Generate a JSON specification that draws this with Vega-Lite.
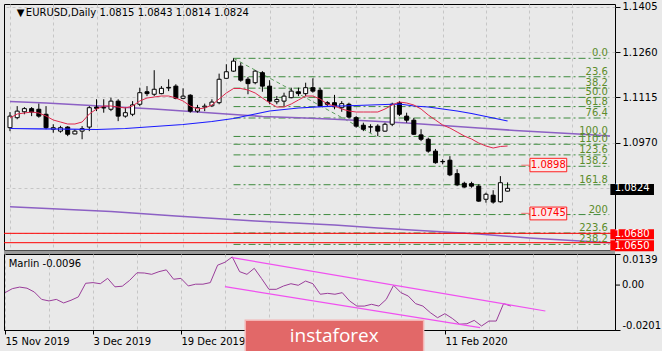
{
 "$schema": "https://vega.github.io/schema/vega-lite/v6.json",
 "background": "#e9e9e9",
 "padding": {"left": 2, "top": 1, "right": 0, "bottom": 0},
 "spacing": 4,
 "bounds": "flush",
 "config": {
  "view": {"stroke": "#000000", "strokeWidth": 1},
  "axis": {"labelFont": "DejaVu Sans", "labelFontSize": 10, "labelColor": "#000000", "tickColor": "#000000", "domainColor": "#000000", "gridColor": "#c6c6c6", "gridDash": [3, 3], "gridWidth": 1},
  "text": {"font": "DejaVu Sans", "fontSize": 10}
 },
 "datasets": {
  "candles": [
   {"i":0,"o":1.1018,"h":1.1068,"l":1.1007,"c":1.1055},
   {"i":1,"o":1.1050,"h":1.1087,"l":1.1045,"c":1.1071},
   {"i":2,"o":1.1069,"h":1.1084,"l":1.1061,"c":1.1079},
   {"i":3,"o":1.1079,"h":1.1084,"l":1.1055,"c":1.1068},
   {"i":4,"o":1.1077,"h":1.1095,"l":1.1050,"c":1.1055},
   {"i":5,"o":1.1061,"h":1.1087,"l":1.1013,"c":1.1018},
   {"i":6,"o":1.1013,"h":1.1029,"l":1.1002,"c":1.1018},
   {"i":7,"o":1.1007,"h":1.1024,"l":1.1002,"c":1.1018},
   {"i":8,"o":1.1020,"h":1.1023,"l":1.0991,"c":1.0997},
   {"i":9,"o":1.0998,"h":1.1013,"l":1.0997,"c":1.1007},
   {"i":10,"o":1.1007,"h":1.1023,"l":1.0981,"c":1.1015},
   {"i":11,"o":1.1020,"h":1.1087,"l":1.1007,"c":1.1082},
   {"i":12,"o":1.1084,"h":1.1109,"l":1.1071,"c":1.1080},
   {"i":13,"o":1.1081,"h":1.1109,"l":1.1066,"c":1.1083},
   {"i":14,"o":1.1077,"h":1.1114,"l":1.1071,"c":1.1103},
   {"i":15,"o":1.1103,"h":1.1109,"l":1.1039,"c":1.1055},
   {"i":16,"o":1.1055,"h":1.1082,"l":1.1050,"c":1.1066},
   {"i":17,"o":1.1061,"h":1.1103,"l":1.1055,"c":1.1091},
   {"i":18,"o":1.1093,"h":1.1146,"l":1.1087,"c":1.1130},
   {"i":19,"o":1.1133,"h":1.1151,"l":1.1119,"c":1.1127},
   {"i":20,"o":1.1125,"h":1.1202,"l":1.1119,"c":1.1141},
   {"i":21,"o":1.1127,"h":1.1151,"l":1.1125,"c":1.1144},
   {"i":22,"o":1.1145,"h":1.1173,"l":1.1135,"c":1.1147},
   {"i":23,"o":1.1151,"h":1.1157,"l":1.1109,"c":1.1112},
   {"i":24,"o":1.1112,"h":1.1144,"l":1.1109,"c":1.1119},
   {"i":25,"o":1.1122,"h":1.1125,"l":1.1066,"c":1.1071},
   {"i":26,"o":1.1071,"h":1.1091,"l":1.1066,"c":1.1082},
   {"i":27,"o":1.1084,"h":1.1095,"l":1.1071,"c":1.1087},
   {"i":28,"o":1.1088,"h":1.1109,"l":1.1084,"c":1.1100},
   {"i":29,"o":1.1098,"h":1.1191,"l":1.1093,"c":1.1173},
   {"i":30,"o":1.1176,"h":1.1221,"l":1.1176,"c":1.1197},
   {"i":31,"o":1.1199,"h":1.1240,"l":1.1197,"c":1.1231},
   {"i":32,"o":1.1215,"h":1.1226,"l":1.1165,"c":1.1170},
   {"i":33,"o":1.1173,"h":1.1180,"l":1.1125,"c":1.1159},
   {"i":34,"o":1.1162,"h":1.1202,"l":1.1157,"c":1.1199},
   {"i":35,"o":1.1194,"h":1.1199,"l":1.1133,"c":1.1151},
   {"i":36,"o":1.1151,"h":1.1170,"l":1.1093,"c":1.1103},
   {"i":37,"o":1.1101,"h":1.1119,"l":1.1093,"c":1.1108},
   {"i":38,"o":1.1103,"h":1.1130,"l":1.1087,"c":1.1119},
   {"i":39,"o":1.1114,"h":1.1146,"l":1.1112,"c":1.1135},
   {"i":40,"o":1.1133,"h":1.1146,"l":1.1119,"c":1.1127},
   {"i":41,"o":1.1127,"h":1.1162,"l":1.1119,"c":1.1146},
   {"i":42,"o":1.1146,"h":1.1176,"l":1.1130,"c":1.1135},
   {"i":43,"o":1.1138,"h":1.1146,"l":1.1087,"c":1.1087},
   {"i":44,"o":1.1098,"h":1.1103,"l":1.1087,"c":1.1093},
   {"i":45,"o":1.1098,"h":1.1123,"l":1.1077,"c":1.1085},
   {"i":46,"o":1.1082,"h":1.1103,"l":1.1069,"c":1.1095},
   {"i":47,"o":1.1093,"h":1.1098,"l":1.1048,"c":1.1052},
   {"i":48,"o":1.1050,"h":1.1055,"l":1.1018,"c":1.1023},
   {"i":49,"o":1.1026,"h":1.1034,"l":1.1007,"c":1.1013},
   {"i":50,"o":1.1021,"h":1.1029,"l":1.1002,"c":1.1020},
   {"i":51,"o":1.1023,"h":1.1029,"l":1.0991,"c":1.1007},
   {"i":52,"o":1.1007,"h":1.1034,"l":1.1005,"c":1.1029},
   {"i":53,"o":1.1029,"h":1.1098,"l":1.1023,"c":1.1093},
   {"i":54,"o":1.1098,"h":1.1103,"l":1.1055,"c":1.1061},
   {"i":55,"o":1.1055,"h":1.1066,"l":1.1034,"c":1.1042},
   {"i":56,"o":1.1042,"h":1.1049,"l":1.0995,"c":1.0997},
   {"i":57,"o":1.0995,"h":1.1013,"l":1.0975,"c":1.0981},
   {"i":58,"o":1.0981,"h":1.0986,"l":1.0938,"c":1.0943},
   {"i":59,"o":1.0943,"h":1.0950,"l":1.0903,"c":1.0906},
   {"i":60,"o":1.0910,"h":1.0917,"l":1.0901,"c":1.0909},
   {"i":61,"o":1.0914,"h":1.0927,"l":1.0863,"c":1.0867},
   {"i":62,"o":1.0871,"h":1.0885,"l":1.0831,"c":1.0835},
   {"i":63,"o":1.0840,"h":1.0845,"l":1.0826,"c":1.0828},
   {"i":64,"o":1.0839,"h":1.0845,"l":1.0826,"c":1.0831},
   {"i":65,"o":1.0831,"h":1.0837,"l":1.0781,"c":1.0783},
   {"i":66,"o":1.0789,"h":1.0810,"l":1.0778,"c":1.0805},
   {"i":67,"o":1.0802,"h":1.0818,"l":1.0775,"c":1.0780},
   {"i":68,"o":1.0781,"h":1.0863,"l":1.0778,"c":1.0842},
   {"i":69,"o":1.0815,"h":1.0843,"l":1.0814,"c":1.0824}
  ],
  "ma": [
   {"s":"red","i":0,"p":1.1049},{"s":"red","i":1,"p":1.10618},{"s":"red","i":2,"p":1.1065},{"s":"red","i":3,"p":1.10682},{"s":"red","i":4,"p":1.1065},
   {"s":"red","i":5,"p":1.10554},{"s":"red","i":6,"p":1.10426},{"s":"red","i":7,"p":1.10362},{"s":"red","i":8,"p":1.10298},{"s":"red","i":9,"p":1.10298},
   {"s":"red","i":10,"p":1.10362},{"s":"red","i":11,"p":1.10618},{"s":"red","i":12,"p":1.10778},{"s":"red","i":13,"p":1.10874},{"s":"red","i":14,"p":1.10874},
   {"s":"red","i":15,"p":1.10842},{"s":"red","i":16,"p":1.1081},{"s":"red","i":17,"p":1.10874},{"s":"red","i":18,"p":1.11034},{"s":"red","i":19,"p":1.1113},
   {"s":"red","i":20,"p":1.11162},{"s":"red","i":21,"p":1.11194},{"s":"red","i":22,"p":1.11194},{"s":"red","i":23,"p":1.1113},{"s":"red","i":24,"p":1.11034},
   {"s":"red","i":25,"p":1.10874},{"s":"red","i":26,"p":1.10778},{"s":"red","i":27,"p":1.1081},{"s":"red","i":28,"p":1.10906},{"s":"red","i":29,"p":1.11098},
   {"s":"red","i":30,"p":1.1129},{"s":"red","i":31,"p":1.11434},{"s":"red","i":32,"p":1.11434},{"s":"red","i":33,"p":1.11386},{"s":"red","i":34,"p":1.1129},
   {"s":"red","i":35,"p":1.1113},{"s":"red","i":36,"p":1.1097},{"s":"red","i":37,"p":1.10842},{"s":"red","i":38,"p":1.10842},{"s":"red","i":39,"p":1.10938},
   {"s":"red","i":40,"p":1.11066},{"s":"red","i":41,"p":1.11194},{"s":"red","i":42,"p":1.11194},{"s":"red","i":43,"p":1.11098},{"s":"red","i":44,"p":1.10938},
   {"s":"red","i":45,"p":1.10874},{"s":"red","i":46,"p":1.10778},{"s":"red","i":47,"p":1.10714},{"s":"red","i":48,"p":1.10682},{"s":"red","i":49,"p":1.10682},
   {"s":"red","i":50,"p":1.10682},{"s":"red","i":51,"p":1.10682},{"s":"red","i":52,"p":1.10778},{"s":"red","i":53,"p":1.10906},{"s":"red","i":54,"p":1.11002},
   {"s":"red","i":55,"p":1.1097},{"s":"red","i":56,"p":1.10906},{"s":"red","i":57,"p":1.10778},{"s":"red","i":58,"p":1.10586},{"s":"red","i":59,"p":1.10426},
   {"s":"red","i":60,"p":1.10266},{"s":"red","i":61,"p":1.1017},{"s":"red","i":62,"p":1.10042},{"s":"red","i":63,"p":1.09914},{"s":"red","i":64,"p":1.09818},
   {"s":"red","i":65,"p":1.0969},{"s":"red","i":66,"p":1.09594},{"s":"red","i":67,"p":1.0953},{"s":"red","i":68,"p":1.09578},{"s":"red","i":69,"p":1.09594},
   {"s":"blue","i":0,"p":1.10154},{"s":"blue","i":4,"p":1.10144},{"s":"blue","i":8,"p":1.10132},{"s":"blue","i":12,"p":1.10122},{"s":"blue","i":16,"p":1.10154},
   {"s":"blue","i":20,"p":1.10218},{"s":"blue","i":24,"p":1.10282},{"s":"blue","i":28,"p":1.10378},{"s":"blue","i":31,"p":1.10474},{"s":"blue","i":34,"p":1.10618},
   {"s":"blue","i":36,"p":1.10714},{"s":"blue","i":40,"p":1.1081},{"s":"blue","i":44,"p":1.10864},{"s":"blue","i":48,"p":1.1089},{"s":"blue","i":52,"p":1.10922},
   {"s":"blue","i":54,"p":1.10938},{"s":"blue","i":56,"p":1.10874},{"s":"blue","i":58,"p":1.10842},{"s":"blue","i":60,"p":1.10778},{"s":"blue","i":62,"p":1.10714},
   {"s":"blue","i":64,"p":1.10634},{"s":"blue","i":66,"p":1.10538},{"s":"blue","i":68,"p":1.10442},{"s":"blue","i":69,"p":1.10394},
   {"s":"pu1","i":0,"p":1.11018},{"s":"pu1","i":5,"p":1.1097},{"s":"pu1","i":10,"p":1.10906},{"s":"pu1","i":15,"p":1.10842},{"s":"pu1","i":20,"p":1.10778},
   {"s":"pu1","i":25,"p":1.10698},{"s":"pu1","i":30,"p":1.10618},{"s":"pu1","i":35,"p":1.10538},{"s":"pu1","i":40,"p":1.105},{"s":"pu1","i":45,"p":1.10448},
   {"s":"pu1","i":50,"p":1.10394},{"s":"pu1","i":55,"p":1.1033},{"s":"pu1","i":60,"p":1.1025},{"s":"pu1","i":65,"p":1.1017},{"s":"pu1","i":70,"p":1.1009},
   {"s":"pu1","i":75,"p":1.10026},{"s":"pu1","i":80,"p":1.09962},{"s":"pu1","i":83.2,"p":1.09914},
   {"s":"pu2","i":0,"p":1.07652},{"s":"pu2","i":14,"p":1.07498},{"s":"pu2","i":23,"p":1.07354},{"s":"pu2","i":34,"p":1.07194},{"s":"pu2","i":45,"p":1.07066},
   {"s":"pu2","i":51,"p":1.0697},{"s":"pu2","i":65,"p":1.06778},{"s":"pu2","i":72,"p":1.0665},{"s":"pu2","i":83.2,"p":1.065}
  ],
  "diag": [{"i":31,"p":1.124},{"i":50.8,"p":1.099}],
  "hl": [{"p":1.068},{"p":1.065}],
  "fib": [
   {"i":31,"i2":83.1,"li":82.9,"p":1.124,"lab":"0.0"},
   {"i":31,"i2":83.1,"li":82.9,"p":1.1181,"lab":"23.6"},
   {"i":31,"i2":83.1,"li":82.9,"p":1.11445,"lab":"38.2"},
   {"i":31,"i2":83.1,"li":82.9,"p":1.1115,"lab":"50.0"},
   {"i":31,"i2":83.1,"li":82.9,"p":1.10855,"lab":"61.8"},
   {"i":31,"i2":83.1,"li":82.9,"p":1.1049,"lab":"76.4"},
   {"i":31,"i2":83.1,"li":82.9,"p":1.099,"lab":"100.0"},
   {"i":31,"i2":83.1,"li":82.9,"p":1.0965,"lab":"110.0"},
   {"i":31,"i2":83.1,"li":82.9,"p":1.0931,"lab":"123.6"},
   {"i":31,"i2":83.1,"li":82.9,"p":1.08945,"lab":"138.2"},
   {"i":31,"i2":83.1,"li":82.9,"p":1.08355,"lab":"161.8"},
   {"i":31,"i2":83.1,"li":82.9,"p":1.074,"lab":"200"},
   {"i":31,"i2":83.1,"li":82.9,"p":1.0681,"lab":"223.6"},
   {"i":31,"i2":83.1,"li":82.9,"p":1.06445,"lab":"238.2"}
  ],
  "plabel": [
   {"i":70.9,"i2":72.1,"i3":77.2,"ti":74.65,"p":1.092,"p2":1.0877,"v":1.0898,"t":"1.0898"},
   {"i":70.9,"i2":72.1,"i3":77.2,"ti":74.65,"p":1.0764,"p2":1.0723,"v":1.0744,"t":"1.0745"}
  ],
  "rbox": [
   {"i":83.25,"i2":89.3,"ti":83.85,"p":1.0838,"p2":1.08026,"v":1.0824,"t":"1.0824","k":"bid"},
   {"i":83.25,"i2":89.3,"ti":83.85,"p":1.0693,"p2":1.0661,"v":1.0677,"t":"1.0680","k":"lvl"},
   {"i":83.25,"i2":89.3,"ti":83.85,"p":1.0658,"p2":1.0623,"v":1.0641,"t":"1.0650","k":"lvl"}
  ],
  "head": [
   {"i":0.95,"p":1.1386,"t":"▼"},
   {"i":2.2,"p":1.1386,"t":"EURUSD,Daily  1.0815 1.0843 1.0814 1.0824"}
  ],
  "marlin": [
   {"i":0,"v":-0.0034},{"i":1,"v":-0.0016},{"i":2,"v":-0.0009},{"i":3,"v":-0.0014},{"i":4,"v":-0.0031},
   {"i":5,"v":-0.0064},{"i":6,"v":-0.0071},{"i":7,"v":-0.0064},{"i":8,"v":-0.008},{"i":9,"v":-0.0068},
   {"i":10,"v":-0.0053},{"i":11,"v":0.0008},{"i":12,"v":0.0011},{"i":13,"v":0.0006},{"i":14,"v":0.003},
   {"i":15,"v":-0.0008},{"i":16,"v":-0.0005},{"i":17,"v":0.0021},{"i":18,"v":0.0055},{"i":19,"v":0.0054},
   {"i":20,"v":0.0048},{"i":21,"v":0.006},{"i":22,"v":0.0068},{"i":23,"v":0.0026},{"i":24,"v":0.003},
   {"i":25,"v":-0.0004},{"i":26,"v":0.0004},{"i":27,"v":0.0004},{"i":28,"v":0.0011},{"i":29,"v":0.0089},
   {"i":30,"v":0.0102},{"i":31,"v":0.0126},{"i":32,"v":0.006},{"i":33,"v":0.0048},{"i":34,"v":0.0075},
   {"i":35,"v":0.0029},{"i":36,"v":-0.0019},{"i":37,"v":-0.0019},{"i":38,"v":-0.0004},{"i":39,"v":0.0006},
   {"i":40,"v":-0.0001},{"i":41,"v":0.0018},{"i":42,"v":0.0006},{"i":43,"v":-0.0041},{"i":44,"v":-0.0037},
   {"i":45,"v":-0.0041},{"i":46,"v":-0.0034},{"i":47,"v":-0.0071},{"i":48,"v":-0.0094},{"i":49,"v":-0.0094},
   {"i":50,"v":-0.0086},{"i":51,"v":-0.0094},{"i":52,"v":-0.0064},{"i":53,"v":-0.0001},{"i":54,"v":-0.0034},
   {"i":55,"v":-0.0049},{"i":56,"v":-0.0083},{"i":57,"v":-0.0094},{"i":58,"v":-0.0123},{"i":59,"v":-0.0146},
   {"i":60,"v":-0.0128},{"i":61,"v":-0.0149},{"i":62,"v":-0.0175},{"i":63,"v":-0.0173},{"i":64,"v":-0.0158},
   {"i":65,"v":-0.0183},{"i":66,"v":-0.0161},{"i":67,"v":-0.0161},{"i":68,"v":-0.0083},{"i":69,"v":-0.0094}
  ],
  "chan": [
   {"s":"u","i":31,"v":0.0123},{"s":"u","i":73.7,"v":-0.0116},
   {"s":"d","i":30,"v":-0.0007},{"s":"d","i":64.8,"v":-0.019}
  ],
  "mtext": [{"i":0.5,"v":0.0096,"t":"Marlin -0.0096"}],
  "zlab": [{"i":83.2,"i2":83.88,"ti":84.14,"v":0,"t":"0.00"}],
  "band": [{"i":-0.136,"i2":83.2,"v":0.0139,"v2":0.01547}],
  "wm": [{"i":32.77,"i2":57.1,"v":-0.01575,"v2":-0.031,"ti":44.9,"tv":-0.0253,"t":"instaforex"}]
 },
 "vconcat": [
  {
   "width": 611,
   "height": 246,
   "layer": [
    {
     "data": {"name": "fib"},
     "mark": {"type": "rule", "color": "#3d8a3d", "strokeDash": [7, 3, 2, 3], "strokeWidth": 1},
     "encoding": {
      "x": {"field": "i", "type": "quantitative", "scale": {"domain": [-0.136, 83.2], "nice": false, "zero": false},
            "axis": {"values": [0, 6, 12, 18, 24, 30, 36, 42, 48, 54, 60, 66, 72, 78], "labels": false, "ticks": false, "tickSize": 0, "labelPadding": 0, "minExtent": 0, "maxExtent": 0, "domain": false, "grid": true, "title": null}},
      "x2": {"field": "i2"},
      "y": {"field": "p", "type": "quantitative", "scale": {"domain": [1.06266, 1.14138], "nice": false, "zero": false},
            "axis": {"orient": "right", "values": [1.1405, 1.126, 1.1115, 1.097, 1.0825, 1.068], "labelExpr": "datum.value < 1.09 ? '' : format(datum.value, '.4f')", "grid": true, "tickSize": 5, "labelPadding": 2, "labelOverlap": false, "domain": false, "title": null}}
     }
    },
    {
     "data": {"name": "diag"},
     "mark": {"type": "line", "color": "#5c9c5c", "strokeDash": [4, 3], "strokeWidth": 1},
     "encoding": {
      "x": {"field": "i", "type": "quantitative", "scale": {"domain": [-0.136, 83.2], "nice": false, "zero": false}},
      "y": {"field": "p", "type": "quantitative", "scale": {"domain": [1.06266, 1.14138], "nice": false, "zero": false}}
     }
    },
    {
     "data": {"name": "ma"},
     "transform": [{"filter": "datum.s == 'pu1' || datum.s == 'pu2'"}],
     "mark": {"type": "line", "color": "#8c60c4", "strokeWidth": 1.6, "clip": true},
     "encoding": {
      "x": {"field": "i", "type": "quantitative", "scale": {"domain": [-0.136, 83.2], "nice": false, "zero": false}},
      "y": {"field": "p", "type": "quantitative", "scale": {"domain": [1.06266, 1.14138], "nice": false, "zero": false}},
      "detail": {"field": "s"}
     }
    },
    {
     "data": {"name": "hl"},
     "mark": {"type": "rule", "color": "#ff0000", "strokeWidth": 1},
     "encoding": {
      "y": {"field": "p", "type": "quantitative", "scale": {"domain": [1.06266, 1.14138], "nice": false, "zero": false}}
     }
    },
    {
     "data": {"name": "candles"},
     "mark": {"type": "rule", "color": "#000000", "strokeWidth": 1, "clip": true},
     "encoding": {
      "x": {"field": "i", "type": "quantitative", "scale": {"domain": [-0.136, 83.2], "nice": false, "zero": false}},
      "y": {"field": "l", "type": "quantitative", "scale": {"domain": [1.06266, 1.14138], "nice": false, "zero": false}},
      "y2": {"field": "h"}
     }
    },
    {
     "data": {"name": "candles"},
     "mark": {"type": "bar", "size": 4, "stroke": "#000000", "strokeWidth": 1, "clip": true},
     "encoding": {
      "x": {"field": "i", "type": "quantitative", "scale": {"domain": [-0.136, 83.2], "nice": false, "zero": false}},
      "y": {"field": "o", "type": "quantitative", "scale": {"domain": [1.06266, 1.14138], "nice": false, "zero": false}},
      "y2": {"field": "c"},
      "fill": {"condition": {"test": "datum.c >= datum.o", "value": "#ffffff"}, "value": "#000000"}
     }
    },
    {
     "data": {"name": "ma"},
     "transform": [{"filter": "datum.s == 'blue'"}],
     "mark": {"type": "line", "color": "#1a1aff", "strokeWidth": 1.2, "clip": true},
     "encoding": {
      "x": {"field": "i", "type": "quantitative", "scale": {"domain": [-0.136, 83.2], "nice": false, "zero": false}},
      "y": {"field": "p", "type": "quantitative", "scale": {"domain": [1.06266, 1.14138], "nice": false, "zero": false}}
     }
    },
    {
     "data": {"name": "ma"},
     "transform": [{"filter": "datum.s == 'red'"}],
     "mark": {"type": "line", "color": "#e0284e", "strokeWidth": 1, "clip": true},
     "encoding": {
      "x": {"field": "i", "type": "quantitative", "scale": {"domain": [-0.136, 83.2], "nice": false, "zero": false}},
      "y": {"field": "p", "type": "quantitative", "scale": {"domain": [1.06266, 1.14138], "nice": false, "zero": false}}
     }
    },
    {
     "data": {"name": "fib"},
     "mark": {"type": "text", "align": "right", "baseline": "alphabetic", "dy": -2, "color": "#5b8c2a", "fontSize": 10},
     "encoding": {
      "x": {"field": "li", "type": "quantitative", "scale": {"domain": [-0.136, 83.2], "nice": false, "zero": false}},
      "y": {"field": "p", "type": "quantitative", "scale": {"domain": [1.06266, 1.14138], "nice": false, "zero": false}},
      "text": {"field": "lab"}
     }
    },
    {
     "data": {"name": "plabel"},
     "mark": {"type": "rule", "color": "#f07070", "strokeWidth": 1},
     "encoding": {
      "x": {"field": "i", "type": "quantitative", "scale": {"domain": [-0.136, 83.2], "nice": false, "zero": false}},
      "x2": {"field": "i2"},
      "y": {"field": "v", "type": "quantitative", "scale": {"domain": [1.06266, 1.14138], "nice": false, "zero": false}}
     }
    },
    {
     "data": {"name": "plabel"},
     "mark": {"type": "rect", "fill": "#fbeaea", "stroke": "#ff2020", "strokeWidth": 1},
     "encoding": {
      "x": {"field": "i2", "type": "quantitative", "scale": {"domain": [-0.136, 83.2], "nice": false, "zero": false}},
      "x2": {"field": "i3"},
      "y": {"field": "p", "type": "quantitative", "scale": {"domain": [1.06266, 1.14138], "nice": false, "zero": false}},
      "y2": {"field": "p2"}
     }
    },
    {
     "data": {"name": "plabel"},
     "mark": {"type": "text", "align": "center", "baseline": "middle", "color": "#ff0000", "fontSize": 10},
     "encoding": {
      "x": {"field": "ti", "type": "quantitative", "scale": {"domain": [-0.136, 83.2], "nice": false, "zero": false}},
      "y": {"field": "v", "type": "quantitative", "scale": {"domain": [1.06266, 1.14138], "nice": false, "zero": false}},
      "text": {"field": "t"}
     }
    },
    {
     "data": {"name": "rbox"},
     "mark": {"type": "rect", "clip": false},
     "encoding": {
      "x": {"field": "i", "type": "quantitative", "scale": {"domain": [-0.136, 83.2], "nice": false, "zero": false}},
      "x2": {"field": "i2"},
      "y": {"field": "p", "type": "quantitative", "scale": {"domain": [1.06266, 1.14138], "nice": false, "zero": false}},
      "y2": {"field": "p2"},
      "fill": {"condition": {"test": "datum.k == 'bid'", "value": "#000000"}, "value": "#ff0000"}
     }
    },
    {
     "data": {"name": "rbox"},
     "mark": {"type": "text", "align": "left", "baseline": "middle", "color": "#ffffff", "fontSize": 10},
     "encoding": {
      "x": {"field": "ti", "type": "quantitative", "scale": {"domain": [-0.136, 83.2], "nice": false, "zero": false}},
      "y": {"field": "v", "type": "quantitative", "scale": {"domain": [1.06266, 1.14138], "nice": false, "zero": false}},
      "text": {"field": "t"}
     }
    },
    {
     "data": {"name": "head"},
     "mark": {"type": "text", "align": "left", "baseline": "middle", "color": "#000000", "fontSize": 10},
     "encoding": {
      "x": {"field": "i", "type": "quantitative", "scale": {"domain": [-0.136, 83.2], "nice": false, "zero": false}},
      "y": {"field": "p", "type": "quantitative", "scale": {"domain": [1.06266, 1.14138], "nice": false, "zero": false}},
      "text": {"field": "t"}
     }
    }
   ]
  },
  {
   "width": 611,
   "height": 76,
   "layer": [
    {
     "data": {"name": "marlin"},
     "mark": {"type": "line", "color": "#9a3d9a", "strokeWidth": 1},
     "encoding": {
      "x": {"field": "i", "type": "quantitative", "scale": {"domain": [-0.136, 83.2], "nice": false, "zero": false},
            "axis": {"orient": "bottom", "values": [0, 6, 12, 18, 24, 30, 36, 42, 48, 54, 60, 66, 72, 78],
                     "labelExpr": "datum.value == 0 ? '15 Nov 2019' : datum.value == 12 ? '3 Dec 2019' : datum.value == 24 ? '19 Dec 2019' : datum.value == 60 ? '11 Feb 2020' : ''",
                     "grid": true, "tickSize": 4, "labelAlign": "left", "labelPadding": 2, "labelFlush": false, "labelOverlap": false, "labelBound": false,
                     "tickOpacity": {"condition": {"test": "datum.value == 0 || datum.value == 12 || datum.value == 24 || datum.value == 60", "value": 1}, "value": 0},
                     "title": null}},
      "y": {"field": "v", "type": "quantitative", "scale": {"domain": [-0.0201, 0.0139], "nice": false, "zero": false},
            "axis": {"orient": "right", "values": [0.0139, -0.0201], "labelExpr": "datum.value > 0 ? '0.0139' : '-0.0201'", "labelFlush": true, "labelOverlap": false, "grid": false, "tickSize": 5, "labelPadding": 2, "title": null}}
     }
    },
    {
     "data": {"name": "chan"},
     "mark": {"type": "line", "color": "#f050f0", "strokeWidth": 1.2},
     "encoding": {
      "x": {"field": "i", "type": "quantitative", "scale": {"domain": [-0.136, 83.2], "nice": false, "zero": false}},
      "y": {"field": "v", "type": "quantitative", "scale": {"domain": [-0.0201, 0.0139], "nice": false, "zero": false}},
      "detail": {"field": "s"}
     }
    },
    {
     "data": {"name": "mtext"},
     "mark": {"type": "text", "align": "left", "baseline": "middle", "color": "#000000", "fontSize": 10},
     "encoding": {
      "x": {"field": "i", "type": "quantitative", "scale": {"domain": [-0.136, 83.2], "nice": false, "zero": false}},
      "y": {"field": "v", "type": "quantitative", "scale": {"domain": [-0.0201, 0.0139], "nice": false, "zero": false}},
      "text": {"field": "t"}
     }
    },
    {
     "data": {"name": "zlab"},
     "mark": {"type": "rule", "color": "#000000", "strokeWidth": 1, "clip": false},
     "encoding": {
      "x": {"field": "i", "type": "quantitative", "scale": {"domain": [-0.136, 83.2], "nice": false, "zero": false}},
      "x2": {"field": "i2"},
      "y": {"field": "v", "type": "quantitative", "scale": {"domain": [-0.0201, 0.0139], "nice": false, "zero": false}}
     }
    },
    {
     "data": {"name": "zlab"},
     "mark": {"type": "text", "align": "left", "baseline": "middle", "color": "#000000", "fontSize": 10, "clip": false},
     "encoding": {
      "x": {"field": "ti", "type": "quantitative", "scale": {"domain": [-0.136, 83.2], "nice": false, "zero": false}},
      "y": {"field": "v", "type": "quantitative", "scale": {"domain": [-0.0201, 0.0139], "nice": false, "zero": false}},
      "text": {"field": "t"}
     }
    },
    {
     "data": {"name": "band"},
     "mark": {"type": "rect", "fill": "#9a9a9a", "clip": false},
     "encoding": {
      "x": {"field": "i", "type": "quantitative", "scale": {"domain": [-0.136, 83.2], "nice": false, "zero": false}},
      "x2": {"field": "i2"},
      "y": {"field": "v", "type": "quantitative", "scale": {"domain": [-0.0201, 0.0139], "nice": false, "zero": false}},
      "y2": {"field": "v2"}
     }
    },
    {
     "data": {"name": "wm"},
     "mark": {"type": "rect", "fill": "#e26868", "stroke": "#f4b4b4", "strokeWidth": 1.5, "clip": false},
     "encoding": {
      "x": {"field": "i", "type": "quantitative", "scale": {"domain": [-0.136, 83.2], "nice": false, "zero": false}},
      "x2": {"field": "i2"},
      "y": {"field": "v", "type": "quantitative", "scale": {"domain": [-0.0201, 0.0139], "nice": false, "zero": false}},
      "y2": {"field": "v2"}
     }
    },
    {
     "data": {"name": "wm"},
     "mark": {"type": "text", "align": "center", "baseline": "alphabetic", "color": "#ffffff", "font": "Open Sans", "fontSize": 19},
     "encoding": {
      "x": {"field": "ti", "type": "quantitative", "scale": {"domain": [-0.136, 83.2], "nice": false, "zero": false}},
      "y": {"field": "tv", "type": "quantitative", "scale": {"domain": [-0.0201, 0.0139], "nice": false, "zero": false}},
      "text": {"field": "t"}
     }
    }
   ]
  }
 ]
}
